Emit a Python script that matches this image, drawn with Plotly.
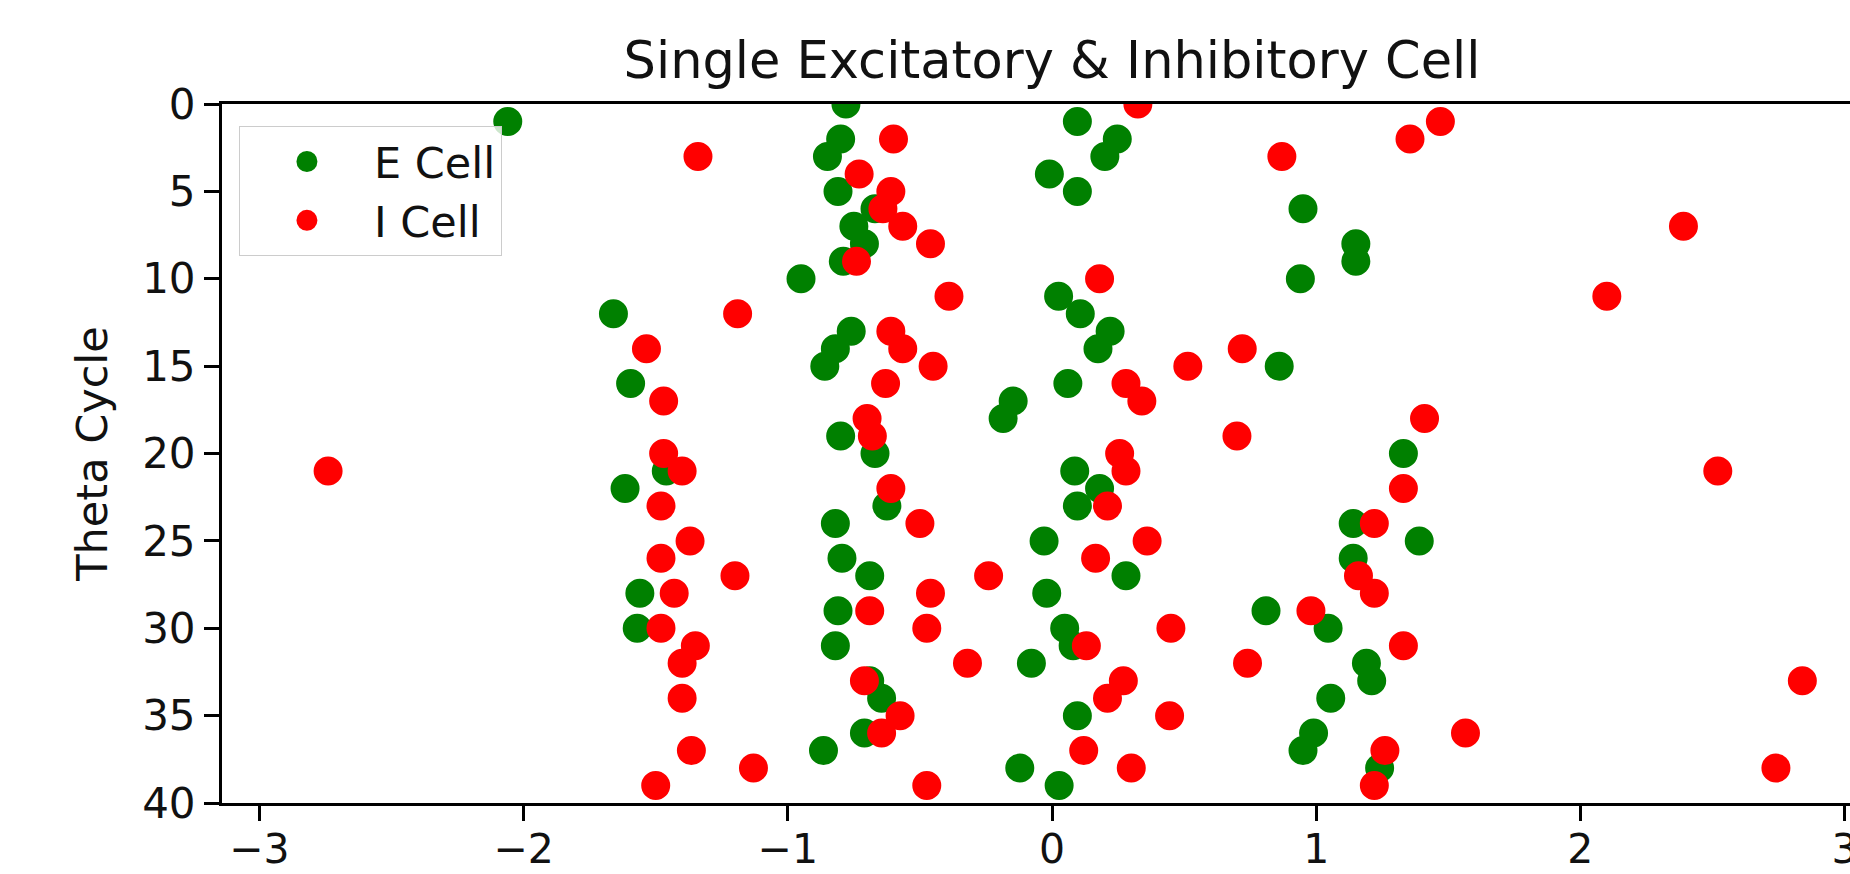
import numpy as np
import plotly.graph_objects as go

# E cell spikes: (theta cycle, phase)
e_cycle = [0, 1, 1, 2, 2, 3, 3, 4, 5, 5, 6, 6, 7, 8, 8, 9, 9, 10, 10, 11,
           12, 12, 13, 13, 14, 14, 15, 15, 16, 16, 17, 18, 19, 20, 20,
           21, 21, 22, 22, 23, 23, 24, 24, 25, 25, 26, 26, 27, 27, 28, 28,
           29, 29, 30, 30, 30, 31, 31, 32, 32, 33, 33, 34, 34, 35, 36, 36,
           37, 37, 38, 38, 39]
e_phase = [-0.78, -2.06, 0.096, -0.80, 0.247, -0.85, 0.20, -0.01, -0.81, 0.096,
           -0.67, 0.95, -0.75, -0.71, 1.15, -0.79, 1.15, -0.95, 0.94, 0.025,
           -1.66, 0.107, -0.76, 0.22, -0.82, 0.174, -0.86, 0.86, -1.595, 0.06,
           -0.147, -0.185, -0.80, -0.67, 1.33,
           -1.46, 0.086, -1.616, 0.18, -0.625, 0.096, -0.82, 1.14, -0.03, 1.39,
           -0.795, 1.14, -0.69, 0.28, -1.56, -0.02,
           -0.81, 0.81, -1.57, 0.048, 1.045, -0.82, 0.08, -0.078, 1.19,
           -0.69, 1.21, -0.645, 1.055, 0.096, -0.71, 0.99,
           -0.865, 0.95, -0.122, 1.24, 0.027]

# I cell spikes: (theta cycle, phase)
i_cycle = [0, 1, 2, 2, 3, 3, 4, 5, 6, 7, 7, 8, 9, 10, 11, 11, 12, 13,
           14, 14, 14, 15, 15, 16, 16, 17, 17, 18, 18, 19, 19, 20, 20,
           21, 21, 21, 21, 22, 22, 23, 23, 24, 24, 25, 25, 26, 26,
           27, 27, 27, 28, 28, 28, 29, 29, 30, 30, 30, 31, 31, 31,
           32, 32, 32, 33, 33, 33, 34, 34, 35, 35, 36, 36, 37, 37, 37,
           38, 38, 38, 39, 39, 39]
i_phase = [0.325, 1.47, -0.60, 1.355, -1.34, 0.87, -0.73, -0.61, -0.64, -0.565, 2.39,
           -0.46, -0.74, 0.18, -0.39, 2.10, -1.19, -0.61,
           -1.535, -0.565, 0.72, -0.45, 0.514, -0.63, 0.28, -1.47, 0.34, -0.70, 1.41,
           -0.68, 0.70, -1.47, 0.256,
           -2.74, -1.40, 0.28, 2.52, -0.61, 1.33, -1.48, 0.21, -0.50, 1.22, -1.37, 0.36,
           -1.48, 0.165,
           -1.20, -0.24, 1.16, -1.43, -0.46, 1.22, -0.69, 0.98, -1.48, -0.474, 0.45,
           -1.35, 0.13, 1.33,
           -1.40, -0.32, 0.74, -0.71, 0.27, 2.84, -1.40, 0.21, -0.575, 0.445,
           -0.645, 1.565, -1.365, 0.12, 1.26,
           -1.13, 0.30, 2.74, -1.50, -0.474, 1.22]

x_ticks = [-3, -2, -1, 0, 1, 2, 3]
x_tick_text = ["\u22123", "\u22122", "\u22121", "0", "1", "2", "3"]
y_ticks = [0, 5, 10, 15, 20, 25, 30, 35, 40]

FONT = "DejaVu Sans"
TXT = "#111111"

fig = go.Figure()
fig.add_trace(go.Scatter(x=e_phase, y=e_cycle, mode="markers", name="E Cell",
                         marker=dict(color="#008000", size=22,
                                     line=dict(width=7, color="#008000"))))
fig.add_trace(go.Scatter(x=i_phase, y=i_cycle, mode="markers", name="I Cell",
                         marker=dict(color="#ff0000", size=22,
                                     line=dict(width=7, color="#ff0000"))))

fig.update_layout(
    width=1850, height=874,
    margin=dict(l=222, r=0, t=104, b=71, autoexpand=False),
    paper_bgcolor="white", plot_bgcolor="white",
    font=dict(family=FONT, color=TXT),
    title=dict(text="Single Excitatory & Inhibitory Cell",
               font=dict(family=FONT, size=51, color=TXT),
               x=1052 / 1850, xanchor="center", xref="container",
               y=1 - 60 / 874, yanchor="middle", yref="container"),
    showlegend=True,
    legend=dict(x=0.0104, y=0.9685, xanchor="left", yanchor="top",
                bgcolor="rgba(255,255,255,0.8)", bordercolor="#cccccc", borderwidth=1,
                font=dict(family=FONT, size=43, color=TXT),
                itemsizing="trace", itemwidth=124, tracegroupgap=0),
)
fig.update_xaxes(range=[-np.pi, 3.0204], tickvals=x_ticks, ticktext=x_tick_text,
                 ticklabeloverflow="allow", automargin=False, ticklabelstandoff=-7,
                 showgrid=False, zeroline=False, showline=True, linecolor="black",
                 linewidth=3, mirror=True, ticks="outside", ticklen=15, tickwidth=3,
                 tickcolor="black", tickfont=dict(family=FONT, size=41, color=TXT))
fig.update_yaxes(range=[40, 0], tickvals=y_ticks, automargin=False,
                 showgrid=False, zeroline=False, showline=True, linecolor="black",
                 linewidth=3, mirror=False, ticks="outside", ticklen=15, tickwidth=3,
                 tickcolor="black", tickfont=dict(family=FONT, size=42, color=TXT),
                 title=dict(text="Theta Cycle", font=dict(family=FONT, size=43, color=TXT),
                            standoff=22))

fig.write_html("out.html")
